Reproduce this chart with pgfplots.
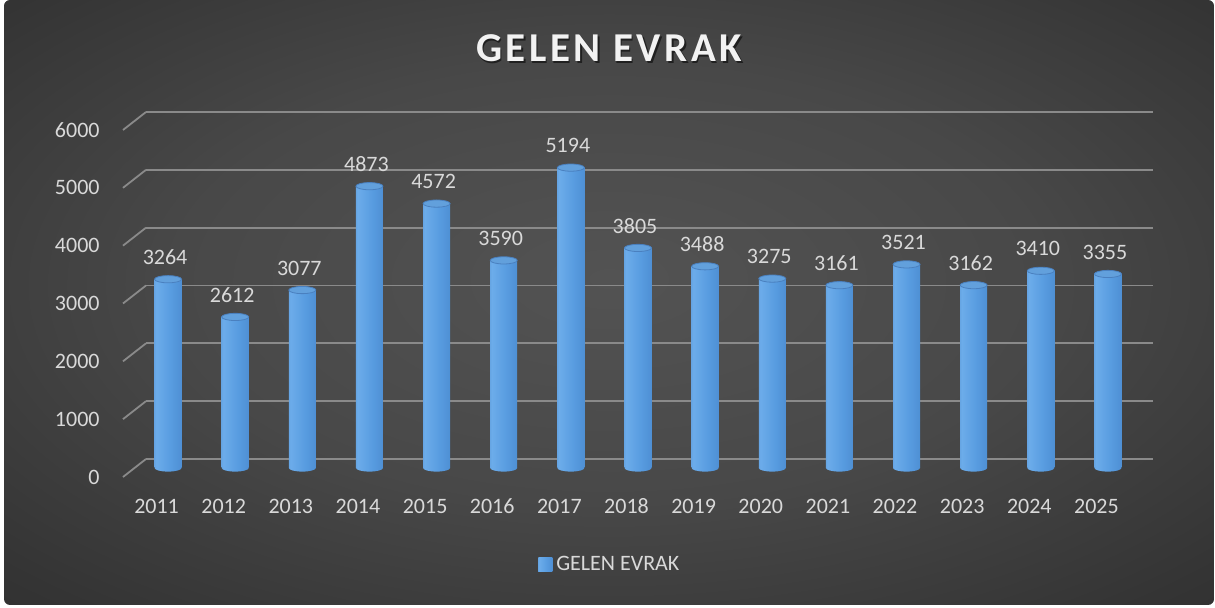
\documentclass[border=0pt]{standalone}
\usepackage{pgfplots}
\pgfplotsset{compat=1.18}
\usepackage{fontspec}
\setmainfont{Carlito}
\definecolor{txt}{HTML}{D9D9D9}
\definecolor{titlec}{HTML}{F2F2F2}
\definecolor{gridc}{HTML}{8A8A8A}
\definecolor{bgA}{HTML}{535353}
\definecolor{bgB}{HTML}{484848}
\definecolor{bgC}{HTML}{343434}
\definecolor{bgD}{HTML}{252525}
\definecolor{cA}{HTML}{3A70B2}
\definecolor{cB}{HTML}{6CACEA}
\definecolor{cC}{HTML}{589CE0}
\definecolor{cD}{HTML}{4887CC}
\definecolor{cE}{HTML}{3A73B6}
\definecolor{topc}{HTML}{62A0DC}
\definecolor{rimc}{HTML}{4A80BF}
\definecolor{legc}{HTML}{4F8FD6}
\pgfdeclareradialshading{bgshade}{\pgfpoint{0bp}{2bp}}{color(0bp)=(bgA); color(18bp)=(bgB); color(34bp)=(bgC); color(50bp)=(bgD); color(80bp)=(bgD)}
\pgfdeclarehorizontalshading{cyl}{100bp}{color(0bp)=(cA); color(28bp)=(cB); color(55bp)=(cC); color(88bp)=(cD); color(100bp)=(cE)}
\pgfdeclareplotmark{cyltop}{\pgfpathellipse{\pgfpointorigin}{\pgfqpoint{6.75pt}{0pt}}{\pgfqpoint{0pt}{1.8pt}}\pgfusepathqfillstroke}
\pgfdeclareplotmark{cylbot}{\pgfpathellipse{\pgfpointorigin}{\pgfqpoint{6.75pt}{0pt}}{\pgfqpoint{0pt}{1.8pt}}\pgfshadepath{cyl}{0}\pgfusepath{discard}}
\pgfplotstableread{
x y
0 3264
1 2612
2 3077
3 4873
4 4572
5 3590
6 5194
7 3805
8 3488
9 3275
10 3161
11 3521
12 3162
13 3410
14 3355
}\datatable
\pgfplotstableread{
x y
0 0
1 0
2 0
3 0
4 0
5 0
6 0
7 0
8 0
9 0
10 0
11 0
12 0
13 0
14 0
}\basetable
\begin{document}
\begin{tikzpicture}
\fill[white] (0,0) rectangle (607.5pt,304pt);
\shade[shading=bgshade, rounded corners=3pt] (2pt,1.5pt) rectangle (607pt,304pt);
\node[black, opacity=0.55, font=\fontsize{20.5}{24}\selectfont\bfseries\addfontfeature{LetterSpace=8.5}] at (305.3pt,279pt) {GELEN EVRAK};
\node[titlec, font=\fontsize{20.5}{24}\selectfont\bfseries\addfontfeature{LetterSpace=8.5}] at (304.5pt,279.75pt) {GELEN EVRAK};
% back wall grid
\begin{axis}[at={(73pt,74.5pt)}, anchor=south west, scale only axis,
  width=503.5pt, height=173.5pt, xmin=-0.5, xmax=14.5, ymin=0, ymax=6000,
  axis line style={draw=none}, xtick=\empty, ytick={0,1000,...,6000},
  yticklabels={}, major tick length=0pt, ymajorgrids,
  major grid style={draw=gridc, line width=0.9pt}]
\addplot[draw=none] coordinates {(0,0)};
\end{axis}
% front plane with tick labels and diagonals
\begin{axis}[at={(61.5pt,65.5pt)}, anchor=south west, scale only axis,
  width=503.5pt, height=173.5pt, xmin=-0.5, xmax=14.5, ymin=0, ymax=6000,
  clip=false, axis line style={draw=none}, major tick length=0pt,
  xtick={0,1,...,14},
  xticklabels={2011,2012,2013,2014,2015,2016,2017,2018,2019,2020,2021,2022,2023,2024,2025},
  ytick={0,1000,...,6000}, scaled y ticks=false,
  /pgf/number format/1000 sep={}, /pgf/number format/assume math mode=true,
  tick label style={font=\fontsize{11}{13}\selectfont, text=txt, inner sep=0pt},
  yticklabel style={anchor=east, xshift=-11.5pt},
  xticklabel style={anchor=center, yshift=-14.5pt}]
\addplot[draw=none] coordinates {(0,0)};
\pgfplotsinvokeforeach{0,1000,2000,3000,4000,5000,6000}{
  \draw[gridc, line width=0.9pt] (axis cs:-0.5,#1) -- ++(11.5pt,9pt);
}
\end{axis}
% bars at mid depth
\begin{axis}[at={(67.25pt,70pt)}, anchor=south west, scale only axis,
  width=503.5pt, height=173.5pt, xmin=-0.5, xmax=14.5, ymin=0, ymax=6000,
  clip=false, axis line style={draw=none}, xtick=\empty, ytick=\empty,
  unbounded coords=discard,
  /pgf/number format/1000 sep={}, /pgf/number format/assume math mode=true,
  legend style={at={(0.473,-0.2795)}, anchor=center, draw=none, fill=none,
    text=txt, font=\fontsize{11}{13}\selectfont, inner sep=0pt,
    legend cell align=left},
  legend image code/.code={\fill[legc] (0pt,-3.5pt) rectangle (7pt,3.5pt);}]
\addplot[only marks, mark=cylbot, forget plot] table[x=x,y=y] {\basetable};
\addplot[ybar, bar width=13.5pt, bar shift=0pt, draw=none, shading=cyl,
  x filter/.expression={x==0 ? x : nan},
  nodes near coords,
  every node near coord/.append style={anchor=center, yshift=11pt, xshift=-1.5pt, inner sep=0pt, text=txt, font=\fontsize{11}{13}\selectfont}]
  table[x=x,y=y] {\datatable};
\addlegendentry{GELEN EVRAK}
\pgfplotsinvokeforeach{1,2,...,14}{
\addplot[ybar, bar width=13.5pt, bar shift=0pt, draw=none, shading=cyl,
  x filter/.expression={x==#1 ? x : nan}, forget plot,
  nodes near coords,
  every node near coord/.append style={anchor=center, yshift=11pt, xshift=-1.5pt, inner sep=0pt, text=txt, font=\fontsize{11}{13}\selectfont}]
  table[x=x,y=y] {\datatable};
}
\addplot[only marks, mark=cyltop, mark options={fill=topc, draw=rimc, line width=0.4pt}, forget plot] table[x=x,y=y] {\datatable};
\end{axis}
\end{tikzpicture}
\end{document}
